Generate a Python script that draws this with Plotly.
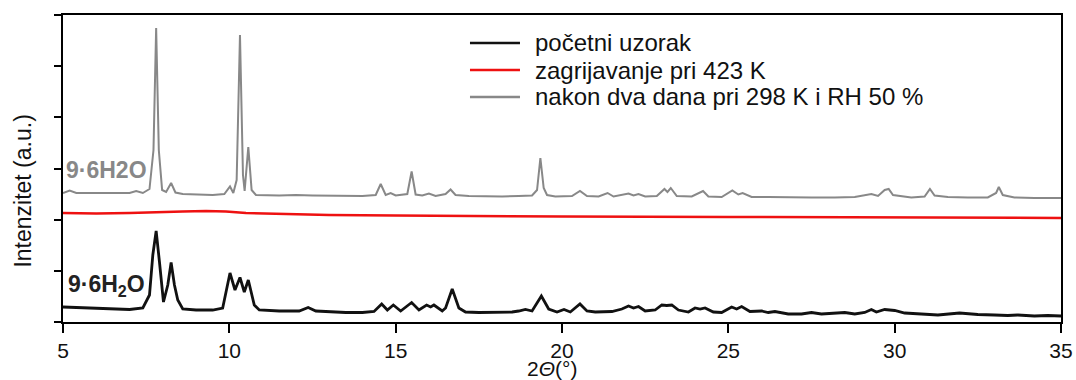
import plotly.graph_objects as go

# Powder XRD patterns of 9·6H2O, stacked (intensity in arbitrary units, offsets included)
two_theta_initial = [5.0, 5.5, 6.0, 6.5, 7.0, 7.4, 7.6, 7.7, 7.8, 7.9, 8.02, 8.15, 8.25, 8.35, 8.45, 8.6,
                     9.0, 9.5, 9.8, 10.02, 10.17, 10.32, 10.45, 10.57, 10.75, 10.9, 11.5, 12.1, 12.37, 12.6,
                     13.0, 13.5, 14.0, 14.35, 14.58, 14.75, 14.93, 15.15, 15.48, 15.7, 15.93, 16.05, 16.15,
                     16.4, 16.5, 16.7, 16.9, 17.1, 17.5, 18.0, 18.5, 18.7, 18.9, 19.1, 19.38, 19.6, 19.85,
                     20.06, 20.25, 20.54, 20.75, 21.0, 21.5, 21.8, 22.0, 22.15, 22.3, 22.5, 22.8, 23.0, 23.15,
                     23.3, 23.5, 23.8, 24.0, 24.15, 24.3, 24.55, 24.8, 25.1, 25.25, 25.4, 25.65, 26.0, 26.2,
                     26.4, 26.8, 27.2, 27.5, 27.8, 28.2, 28.5, 28.8, 29.1, 29.3, 29.45, 29.7, 30.0, 30.3,
                     30.8, 31.3, 31.95, 32.5, 33.0, 33.4, 33.7, 34.2, 34.6, 35.0]
intensity_initial = [15, 14.5, 14, 13, 12.5, 14, 27, 67, 91, 60, 20, 37, 59.5, 37, 22, 13,
                     12, 12, 14, 49, 32, 44.5, 30, 42, 17, 12, 11, 11, 14.5, 11,
                     10, 9.5, 9.5, 10.5, 18, 12, 17, 11, 19.5, 12, 17, 15, 17,
                     11, 14, 33, 14, 10, 9.5, 9.5, 10, 11, 12.5, 11, 26, 13, 10,
                     12.5, 10, 18, 11, 10, 10.5, 13, 16, 14, 15.5, 11, 12, 17, 16.5,
                     17, 12, 10, 14, 13, 14, 10, 9.5, 15, 13, 15.5, 10.5, 11, 9.5,
                     10.5, 8, 8, 9.5, 8, 9, 9.5, 8, 9.5, 12.5, 10, 12.5, 11.5, 9,
                     8, 7, 9, 7.5, 7, 6.5, 7, 6, 6.5, 6]

two_theta_heated = [5.0, 6.0, 7.0, 8.0, 8.6, 9.3, 9.9, 10.5, 11.5, 13.0, 15.0, 17.0, 20.0, 25.0, 30.0, 35.0]
intensity_heated = [109, 108.5, 109, 109.5, 110.5, 111, 110.5, 109, 108, 107, 106.5, 106, 105.5, 105, 104.5, 104]

two_theta_rehydrated = [5.0, 5.2, 5.4, 6.0, 6.5, 7.0, 7.2, 7.4, 7.6, 7.72, 7.8, 7.88, 7.98, 8.1, 8.25, 8.38,
                        8.6, 9.0, 9.5, 9.85, 10.02, 10.12, 10.22, 10.32, 10.41, 10.46, 10.57, 10.67, 10.8,
                        11.5, 12.0, 12.5, 13.0, 13.5, 14.0, 14.4, 14.55, 14.7, 14.85, 15.0, 15.35, 15.48,
                        15.6, 15.8, 16.0, 16.2, 16.5, 16.65, 16.8, 17.2, 17.7, 18.2, 18.7, 19.1, 19.25,
                        19.35, 19.45, 19.55, 19.8, 20.3, 20.54, 20.75, 21.1, 21.37, 21.55, 22.0, 22.15,
                        22.3, 22.5, 22.85, 23.08, 23.17, 23.27, 23.45, 23.9, 24.24, 24.4, 24.8, 25.12,
                        25.3, 25.43, 25.7, 26.2, 26.8, 27.5, 28.2, 28.8, 29.3, 29.5, 29.7, 29.82, 29.95,
                        30.5, 30.9, 31.06, 31.2, 31.6, 32.2, 32.8, 33.05, 33.13, 33.25, 33.6, 34.2, 35.0]
intensity_rehydrated = [129, 131.5, 129, 129, 128.5, 129, 131, 129, 133, 172, 294, 172, 132, 130, 139, 129.5,
                        128, 127.5, 127, 128, 135.5, 129, 142, 287, 147, 131, 175, 132, 127,
                        126.5, 127, 126.5, 126.5, 126, 126, 127, 138, 127, 129, 126.5, 128, 150.5,
                        127.5, 126.5, 128.5, 126, 128, 132.5, 127, 126, 125.5, 125.5, 126, 126.5, 132,
                        164, 134, 127, 125.5, 126, 131, 126, 125.5, 129, 125.5, 128.5, 126.5,
                        128, 125.5, 126, 133, 130, 134, 126, 125.5, 131, 125.5, 125, 131.5,
                        127.5, 129, 125, 125, 124.5, 124.5, 124.5, 125, 128, 126, 132, 133, 127,
                        124.5, 125.5, 133, 126.5, 125, 124.5, 124.5, 129, 135, 127, 124.5, 124, 124]

series_names = ["početni uzorak", "zagrijavanje pri 423 K", "nakon dva dana pri 298 K i RH 50 %"]
series_colors = ["#111111", "#ee1111", "#888888"]
series_widths = [2.8, 2.5, 2]

x_ticks = [5, 10, 15, 20, 25, 30, 35]
phase_label_rehydrated = "9·6H2O"
phase_label_initial = "9·6H<sub>2</sub>O"

FONT = "Liberation Sans, Arial, sans-serif"

fig = go.Figure()
traces = [
    (two_theta_initial, intensity_initial),
    (two_theta_heated, intensity_heated),
    (two_theta_rehydrated, intensity_rehydrated),
]
# draw heated first, then rehydrated, then initial on top
for idx in [1, 2, 0]:
    xs, ys = traces[idx]
    fig.add_trace(go.Scatter(
        x=xs, y=ys, mode="lines", name=series_names[idx],
        line=dict(color=series_colors[idx], width=series_widths[idx]),
        showlegend=False,
    ))

y_top = 307
axis_common = dict(
    showline=True, linecolor="black", linewidth=2, mirror=True, automargin=False,
    showgrid=False, zeroline=False, ticks="outside", tickcolor="black", tickwidth=2,
)
fig.update_xaxes(range=[5, 35], tickvals=x_ticks, ticklen=9,
                 tickfont=dict(family=FONT, size=21, color="#111"), **axis_common)
fig.update_yaxes(range=[0, y_top], tickmode="linear", tick0=0, dtick=y_top / 6, ticklen=7,
                 showticklabels=False, **axis_common)

annotations = [
    dict(text="2<i>Θ</i>(°)", xref="paper", yref="paper", x=0.49, y=-0.152,
         showarrow=False, xanchor="center", yanchor="middle",
         font=dict(family=FONT, size=21, color="#111")),
    dict(text="Intenzitet (a.u.)", xref="paper", yref="paper", x=-0.041, y=0.425,
         showarrow=False, textangle=-90, xanchor="center", yanchor="middle",
         font=dict(family=FONT, size=23, color="#111")),
    dict(text=phase_label_rehydrated, xref="x", yref="y", x=5.03, y=152,
         showarrow=False, xanchor="left", yanchor="middle",
         font=dict(family=FONT, size=23, color=series_colors[2], weight="bold")),
    dict(text=phase_label_initial, xref="x", yref="y", x=5.1, y=37,
         showarrow=False, xanchor="left", yanchor="middle",
         font=dict(family=FONT, size=23, color="#222222", weight="bold")),
]

# legend drawn as line segments with labels
legend_rows_y = [0.9088, 0.8208, 0.7329]
shapes = []
for name, color, width, ly in zip(series_names, series_colors, series_widths, legend_rows_y):
    shapes.append(dict(type="line", xref="paper", yref="paper", x0=0.4078, x1=0.4579, y0=ly, y1=ly,
                       line=dict(color=color, width=2.5)))
    annotations.append(dict(text=name, xref="paper", yref="paper", x=0.4709, y=ly,
                            showarrow=False, xanchor="left", yanchor="middle",
                            font=dict(family=FONT, size=24, color="#111")))

fig.update_layout(
    width=1076, height=380,
    margin=dict(l=63, r=15, t=15, b=58),
    paper_bgcolor="white", plot_bgcolor="white",
    annotations=annotations, shapes=shapes,
    showlegend=False,
)

fig.write_html("out.html")
